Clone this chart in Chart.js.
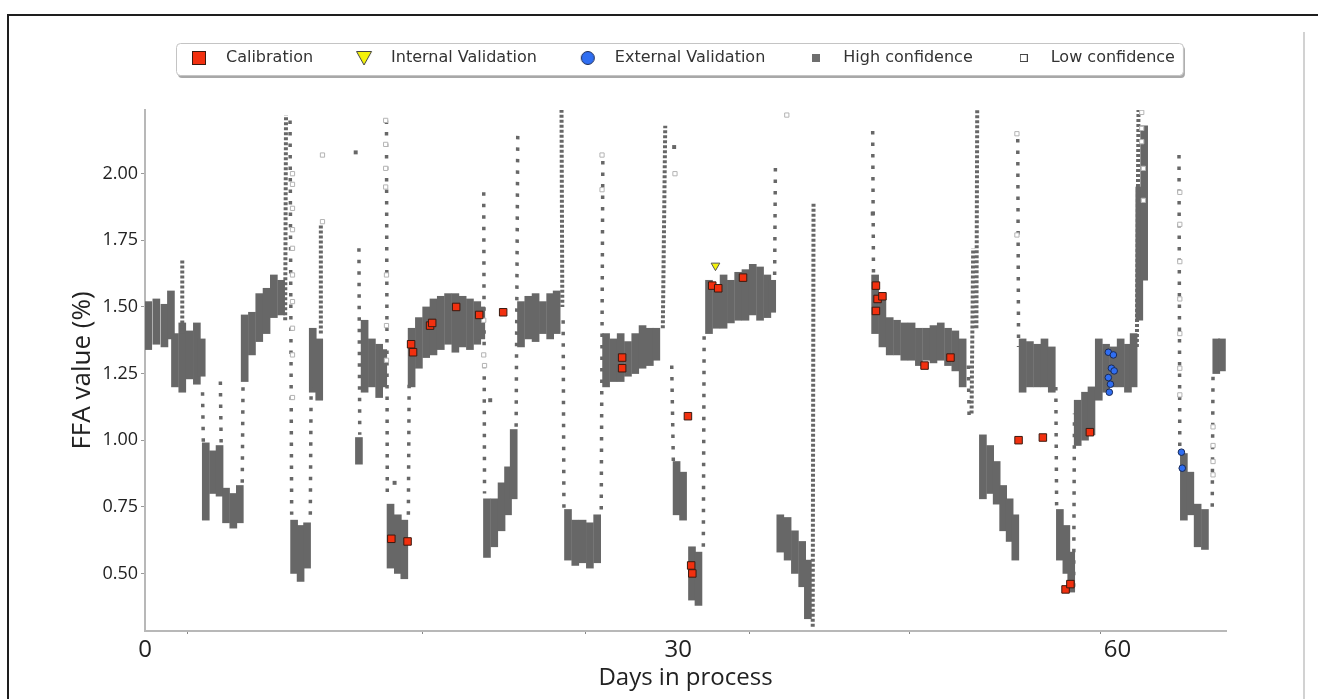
<!DOCTYPE html>
<html lang="en">
<head>
<meta charset="UTF-8">
<title>FFA value</title>
<script src="https://cdn.jsdelivr.net/npm/chart.js"></script>
<style>
  html, body { margin: 0; padding: 0; background: #fff; }
  #wrap { position: relative; width: 1318px; height: 699px; }
</style>
</head>
<body>
<div id="wrap"><canvas id="grafico"></canvas></div>
<script>
// x in days, y in FFA %
const xMajor = [0, 32.9, 60];
const xMajorLabels = ['0', '30', '60'];
const xMinor = [2.65, 17.1, 27.2, 37.3, 47.2, 58.95];
const yTicks = [0.5, 0.75, 1.0, 1.25, 1.5, 1.75, 2.0];

// dense high-confidence band: [day, low, high]
const highBand = [
  [0.2,1.34,1.52],[0.7,1.36,1.53],[1.2,1.35,1.51],[1.6,1.38,1.56],
  [1.85,1.20,1.40],[2.3,1.18,1.44],[2.75,1.23,1.41],[3.2,1.21,1.44],[3.5,1.24,1.38],
  [3.75,0.70,0.99],[4.2,0.80,0.96],[4.6,0.79,0.98],
  [5.0,0.69,0.82],[5.45,0.67,0.80],[5.85,0.69,0.83],
  [6.15,1.22,1.47],[6.6,1.32,1.48],[7.05,1.37,1.55],[7.5,1.40,1.57],[7.95,1.46,1.62],[8.4,1.47,1.60],
  [9.2,0.50,0.70],[9.6,0.47,0.68],[10.0,0.52,0.69],
  [10.35,1.18,1.42],[10.75,1.15,1.38],
  [13.2,0.91,1.01],
  [13.55,1.18,1.45],[14.0,1.20,1.38],[14.45,1.16,1.36],[14.7,1.20,1.34],
  [15.15,0.52,0.76],[15.6,0.50,0.72],[16.0,0.48,0.70],
  [16.45,1.20,1.42],[16.9,1.27,1.46],[17.35,1.31,1.50],[17.8,1.32,1.53],[18.25,1.34,1.54],[18.7,1.36,1.55],
  [19.15,1.33,1.55],[19.6,1.35,1.54],[20.05,1.34,1.53],[20.5,1.36,1.52],[20.75,1.38,1.50],
  [21.1,0.56,0.78],[21.55,0.60,0.78],[22.0,0.66,0.84],[22.4,0.72,0.90],[22.75,0.78,1.04],
  [23.2,1.35,1.52],[23.65,1.38,1.54],[24.1,1.37,1.55],[24.55,1.40,1.52],[25.0,1.38,1.55],[25.4,1.40,1.56],
  [26.1,0.55,0.74],[26.55,0.53,0.70],[27.0,0.54,0.70],[27.45,0.52,0.69],[27.9,0.54,0.72],
  [28.45,1.20,1.40],[28.9,1.22,1.38],[29.35,1.22,1.40],[29.8,1.24,1.37],[30.25,1.25,1.40],[30.7,1.27,1.43],
  [31.15,1.28,1.42],[31.55,1.30,1.42],
  [32.8,0.72,0.92],[33.2,0.70,0.88],
  [33.75,0.40,0.60],[34.15,0.38,0.58],
  [34.8,1.40,1.60],[35.25,1.42,1.58],[35.7,1.42,1.62],[36.15,1.44,1.60],[36.6,1.45,1.63],
  [37.05,1.45,1.64],[37.5,1.47,1.66],[37.95,1.45,1.65],[38.4,1.46,1.62],[38.7,1.48,1.60],
  [39.2,0.58,0.72],[39.65,0.55,0.71],[40.1,0.50,0.66],[40.55,0.45,0.62],[40.9,0.33,0.55],
  [45.05,1.40,1.62],[45.5,1.35,1.55],[45.95,1.32,1.46],[46.4,1.32,1.45],[46.85,1.30,1.44],[47.3,1.30,1.44],
  [47.75,1.28,1.42],[48.2,1.30,1.42],[48.65,1.29,1.43],[49.1,1.30,1.44],[49.55,1.28,1.42],[50.0,1.26,1.41],[50.45,1.20,1.38],
  [51.7,0.78,1.02],[52.15,0.80,0.98],[52.55,0.76,0.92],
  [52.95,0.66,0.83],[53.35,0.62,0.78],[53.7,0.55,0.72],
  [54.15,1.18,1.38],[54.6,1.20,1.37],[55.05,1.20,1.36],[55.5,1.20,1.38],[55.95,1.18,1.35],
  [56.45,0.55,0.74],[56.85,0.50,0.68],[57.15,0.43,0.58],
  [57.55,0.98,1.15],[58.0,1.00,1.18],[58.4,1.02,1.20],
  [58.85,1.15,1.38],[59.3,1.18,1.36],[59.75,1.20,1.35],[60.2,1.20,1.38],[60.65,1.18,1.36],[61.0,1.20,1.40],
  [61.35,1.45,1.95],[61.65,1.60,2.18],
  [64.1,0.70,0.95],[64.5,0.72,0.88],
  [64.95,0.60,0.76],[65.4,0.59,0.74],
  [66.1,1.25,1.38],[66.45,1.26,1.38]
];

// transitions between levels: [day1, y1, day2, y2]
const sparseRamps = [
  [3.55,1.18,3.6,0.99],[4.65,1.22,4.7,0.98],[6.0,0.84,6.05,1.22],[8.95,2.20,9.05,0.72],
  [10.2,0.72,10.25,1.20],[13.2,1.72,13.25,1.02],[14.9,2.20,14.95,0.78],[16.25,0.72,16.3,1.22],
  [20.9,1.93,20.95,0.80],[22.9,1.05,23.0,2.15],[25.8,1.45,25.85,0.72],[28.15,0.74,28.25,2.07],
  [32.5,1.28,32.6,0.92],[34.45,0.60,34.5,1.40],[38.85,1.62,38.9,2.05],[44.9,2.16,44.95,1.62],
  [50.8,1.28,50.85,1.08],[53.85,2.13,53.9,1.35],[56.2,1.20,56.25,0.75],[57.3,0.45,57.35,1.10],
  [63.8,2.07,63.85,0.95],[65.85,0.75,65.9,1.25]
];
const denseRamps = [
  [2.3,1.40,2.3,1.68],[8.65,1.45,8.7,2.22],[10.85,1.40,10.85,1.81],[25.7,2.24,25.75,1.50],
  [31.95,1.42,32.1,2.18],[41.2,0.30,41.25,1.89],[51.0,1.10,51.1,1.72],[51.3,1.42,51.35,2.24],
  [61.2,1.35,61.3,2.24]
];
const highDots = [[13.0,2.08],[32.65,2.10],[15.4,0.84],[21.3,1.15],[44.9,1.85]];

const lowConf = [
  [9.1,2.00],[9.1,1.96],[9.1,1.87],[9.1,1.79],[9.1,1.72],[9.1,1.62],[9.1,1.52],[9.1,1.42],[9.1,1.32],[9.1,1.16],
  [10.95,2.07],[10.95,1.82],
  [14.85,2.20],[14.85,2.11],[14.85,2.02],[14.85,1.95],[14.9,1.62],[14.9,1.43],[14.9,1.30],
  [20.9,1.45],[20.9,1.32],[20.95,1.28],
  [28.2,2.07],[28.2,1.94],[32.7,2.00],[39.6,2.22],[53.8,2.15],[53.8,1.77],
  [61.5,2.23],[61.5,2.17],[61.5,2.12],[61.6,2.02],[61.6,1.90],
  [63.85,1.93],[63.85,1.81],[63.85,1.67],[63.85,1.53],[63.85,1.40],[63.85,1.27],[63.85,1.17],
  [65.9,1.05],[65.9,0.98],[65.9,0.92],[65.9,0.87]
];

const calibration = [
  [15.2,0.63],[16.2,0.62],[16.42,1.36],[16.54,1.33],[17.59,1.43],[17.72,1.44],[19.2,1.50],[20.62,1.47],
  [22.1,1.48],[29.44,1.31],[29.44,1.27],[33.5,1.09],[33.7,0.53],[33.77,0.50],[35.0,1.58],[35.37,1.57],
  [36.9,1.61],[45.1,1.58],[45.2,1.53],[45.5,1.54],[45.1,1.485],[48.1,1.28],[49.7,1.31],[53.9,1.00],
  [55.4,1.01],[56.8,0.44],[57.1,0.46],[58.3,1.03]
];
const internalVal = [[35.2,1.655]];
const externalVal = [
  [59.44,1.33],[59.75,1.32],[59.63,1.27],[59.8,1.26],[59.44,1.235],[59.57,1.21],[59.5,1.18],
  [63.95,0.955],[64.0,0.895]
];

const legendNames = ['Calibration', 'Internal Validation', 'External Validation', 'High confidence', 'Low confidence'];

const GRAY = '#676767';
const pts = arr => arr.map(p => ({x: p[0], y: p[1]}));
const segs = arr => {
  const out = [];
  arr.forEach(r => { out.push({x: r[0], y: r[1]}, {x: r[2], y: r[3]}, {x: r[2], y: null}); });
  return out;
};

function icon(w, h, draw) {
  const c = document.createElement('canvas');
  c.width = w; c.height = h;
  draw(c.getContext('2d'));
  return c;
}
const legendIcons = [
  icon(16, 16, g => { g.fillStyle = '#f2300f'; g.fillRect(1, 1, 14, 14); g.strokeStyle = '#3a1a10'; g.strokeRect(1.5, 1.5, 13, 13); }),
  icon(18, 16, g => { g.beginPath(); g.moveTo(1.5, 1.5); g.lineTo(16.5, 1.5); g.lineTo(9, 15); g.closePath();
    g.fillStyle = '#f4f20a'; g.fill(); g.strokeStyle = '#444'; g.stroke(); }),
  icon(16, 16, g => { g.beginPath(); g.arc(8, 8, 6.5, 0, Math.PI * 2); g.fillStyle = '#2f6ef2'; g.fill(); g.strokeStyle = '#1a2a55'; g.stroke(); }),
  icon(8, 8, g => { g.fillStyle = '#6e6e6e'; g.fillRect(0, 0, 8, 8); }),
  icon(8, 8, g => { g.strokeStyle = '#444'; g.strokeRect(0.5, 0.5, 7, 7); })
];

const framePlugin = {
  id: 'frame',
  afterLayout(chart) {
    const lg = chart.legend;
    const dx = 180 - (lg.left + 32);
    const dy = 18 - lg.top;
    lg.left += dx; lg.right += dx; lg.top += dy; lg.bottom += dy;
  },
  beforeDraw(chart) {
    const c = chart.ctx;
    c.save();
    c.fillStyle = '#1e1e1e';
    c.fillRect(7, 14, 1311, 2);
    c.fillRect(7, 14, 2, 685);
    c.fillStyle = '#d2d2d2';
    c.fillRect(1303, 32, 2, 667);
    const hb = chart.legend.legendHitBoxes;
    if (hb && hb.length) {
      const last = hb[hb.length - 1];
      const x0 = 176, x1 = last.left + last.width + 8;
      const cy = hb[0].top + hb[0].height / 2;
      const y0 = cy - 15, y1 = cy + 17;
      c.fillStyle = '#a8a8a8';
      c.beginPath(); c.roundRect(x0 + 2, y0 + 3, x1 - x0, y1 - y0, 4); c.fill();
      c.fillStyle = '#fff'; c.strokeStyle = '#c4c4c4'; c.lineWidth = 1;
      c.beginPath(); c.roundRect(x0 + 0.5, y0 + 0.5, x1 - x0, y1 - y0, 4); c.fill(); c.stroke();
    }
    c.restore();
  }
};

const ctx = document.getElementById('grafico');
new Chart(ctx, {
  type: 'bar',
  data: {
    datasets: [
      { type: 'scatter', label: 'Calibration', data: pts(calibration), order: 0,
        pointStyle: 'rect', pointRadius: 5.3, backgroundColor: '#f2300f', borderColor: '#3a1a10', borderWidth: 1 },
      { type: 'scatter', label: 'Internal Validation', data: pts(internalVal), order: 1,
        pointStyle: 'triangle', rotation: 180, pointRadius: 5, backgroundColor: '#f4f20a', borderColor: '#555', borderWidth: 1 },
      { type: 'scatter', label: 'External Validation', data: pts(externalVal), order: 2,
        pointStyle: 'circle', pointRadius: 3.3, backgroundColor: '#2f6ef2', borderColor: '#1a2a55', borderWidth: 1 },
      { type: 'scatter', label: 'Low confidence', data: pts(lowConf), order: 3,
        pointStyle: 'rect', pointRadius: 3, backgroundColor: '#fff', borderColor: '#b4b4b4', borderWidth: 1 },
      { type: 'scatter', label: 'High dots', data: pts(highDots), order: 4,
        pointStyle: 'rect', pointRadius: 2.8, backgroundColor: GRAY, borderWidth: 0 },
      { type: 'line', label: 'sparse', data: segs(sparseRamps), order: 5, spanGaps: false,
        borderColor: GRAY, borderWidth: 3.5, borderDash: [3.5, 8], pointRadius: 0, fill: false },
      { type: 'line', label: 'dense', data: segs(denseRamps), order: 6, spanGaps: false,
        borderColor: GRAY, borderWidth: 4, borderDash: [3, 2], pointRadius: 0, fill: false },
      { type: 'bar', label: 'High confidence', data: highBand.map(b => ({x: b[0], y: [b[1], b[2]]})), order: 7,
        backgroundColor: GRAY, barThickness: 7, borderWidth: 0 }
    ]
  },
  options: {
    responsive: true,
    maintainAspectRatio: false,
    animation: false,
    layout: { padding: { top: 52, right: 92, left: 0, bottom: 0 } },
    plugins: {
      tooltip: { enabled: false },
      legend: {
        position: 'top',
        align: 'start',
        labels: {
          usePointStyle: true,
          pointStyleWidth: 38,
          padding: 32,
          color: '#333',
          font: { family: 'DejaVu Sans', size: 16 },
          generateLabels: () => legendNames.map((t, i) => ({
            text: t, pointStyle: legendIcons[i], fillStyle: 'transparent', strokeStyle: 'transparent',
            lineWidth: 0, hidden: false, datasetIndex: i, fontColor: '#333'
          }))
        }
      }
    },
    scales: {
      x: {
        type: 'linear', min: 0, max: 66.7, offset: false,
        afterFit: s => { s.height = 68; },
        afterBuildTicks: s => { s.ticks = xMajor.concat(xMinor).sort((a, b) => a - b).map(v => ({value: v})); },
        ticks: {
          autoSkip: false, maxRotation: 0, padding: 2, color: '#222',
          font: { family: 'Open Sans', size: 24 },
          callback: v => { const i = xMajor.indexOf(v); return i >= 0 ? xMajorLabels[i] : ''; }
        },
        grid: {
          offset: false, drawOnChartArea: false, tickLength: 3,
          tickColor: c => (c.tick && xMajor.indexOf(c.tick.value) >= 0) ? 'rgba(0,0,0,0)' : '#888'
        },
        border: { color: '#b8b8b8', width: 2 },
        title: { display: true, text: 'Days in process', color: '#222', font: { family: 'Open Sans', size: 24 },
          padding: { top: 0, bottom: 6 } }
      },
      y: {
        type: 'linear', min: 0.284, max: 2.239,
        afterFit: s => { s.width = 145; },
        afterBuildTicks: s => { s.ticks = yTicks.map(v => ({value: v})); },
        ticks: {
          padding: 3, color: '#222', font: { family: 'Open Sans', size: 18 },
          callback: v => v.toFixed(2)
        },
        grid: { drawOnChartArea: false, tickLength: 4, tickColor: '#999' },
        border: { color: '#b8b8b8', width: 2 },
        title: { display: true, text: 'FFA value (%)', color: '#222', font: { family: 'Open Sans', size: 26 },
          padding: { top: 67, bottom: 0 } }
      }
    }
  },
  plugins: [framePlugin]
});
</script>
</body>
</html>
